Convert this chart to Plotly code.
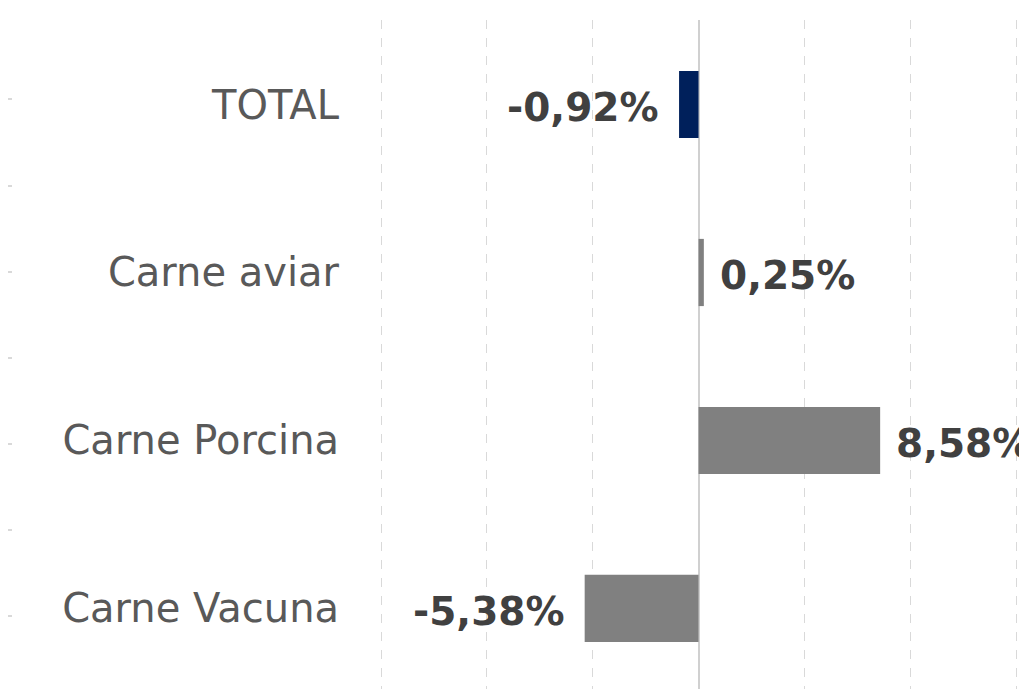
import plotly.graph_objects as go

categories = ["Carne Vacuna", "Carne Porcina", "Carne aviar", "TOTAL"]
values = [-5.38, 8.58, 0.25, -0.92]
bar_colors = ["#808080", "#808080", "#808080", "#00205B"]

labels = [f"{v:.2f}".replace(".", ",") + "%" for v in values]

fig = go.Figure()
fig.add_trace(go.Bar(
    y=categories, x=values, orientation="h",
    marker=dict(color=bar_colors, line=dict(width=0)),
    width=0.4, showlegend=False, hoverinfo="skip",
))

for v, c, t in zip(values, categories, labels):
    fig.add_annotation(
        x=v, y=c, text=t, showarrow=False,
        xanchor="left" if v >= 0 else "right",
        xshift=14 if v >= 0 else -18,
        yshift=-3,
        font=dict(family="DejaVu Sans", size=39, color="#404040", weight="bold"),
    )

# faint ticks of the neighbouring axis on the far left
fig.add_trace(go.Scatter(x=[None], y=[None], yaxis="y2", showlegend=False))

fig.update_layout(
    width=1027, height=689,
    margin=dict(l=0, r=0, t=12, b=0, autoexpand=False),
    paper_bgcolor="white", plot_bgcolor="white",
    xaxis=dict(
        domain=[372 / 1027, 1], range=[-15.05, 15.896], dtick=5, tick0=0,
        showgrid=True, gridcolor="#d9d9d9", griddash="dash", gridwidth=1,
        zeroline=True, zerolinecolor="#d0d0d0", zerolinewidth=2,
        showticklabels=False, ticks="", showline=False, fixedrange=True,
        automargin=False,
    ),
    yaxis=dict(
        range=[-0.527, 3.503], showgrid=False, zeroline=False,
        ticks="", ticklabelstandoff=40, automargin=False,
        tickfont=dict(family="DejaVu Sans", size=40, color="#595959"),
        showline=False,
    ),
    yaxis2=dict(
        overlaying="y", anchor="free", position=4 / 1027, side="left",
        range=[0, 677], tick0=81, dtick=86.1, automargin=False,
        ticks="outside", ticklen=12, tickcolor="#d9d9d9", tickwidth=2,
        showticklabels=False, showgrid=False, zeroline=False, showline=False,
    ),
)

fig.write_html("out.html")
